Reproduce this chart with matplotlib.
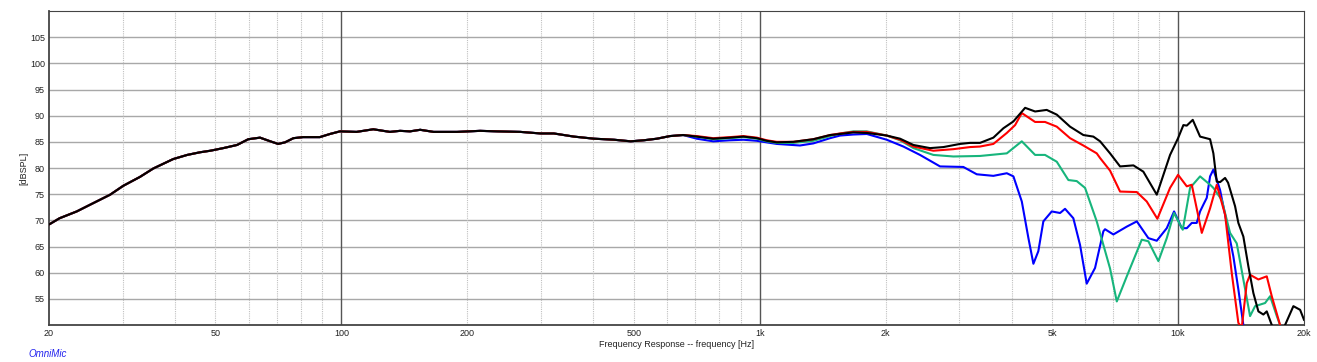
import matplotlib
matplotlib.use("Agg")
import matplotlib.pyplot as plt
import numpy as np

# shared part of all four traces (20 Hz .. 650 Hz)
freq_common = [20, 21.2, 23.3, 25.1, 28.0, 30.1, 33.0, 35.5, 39.6, 42.8, 45.9,
               48.6, 52.2, 56.3, 59.9, 63.9, 67.6, 70.6, 73.3, 76.8, 81.0, 88.8,
               93.9, 99.2, 108.7, 119.2, 130.6, 138.1, 145.9, 154.3, 166.1, 188.9,
               214.6, 235.6, 267.8, 299.2, 322, 359.6, 401.6, 448.6, 491.4, 528.5,
               568, 610, 656]
spl_common = [69.2, 70.4, 71.7, 73.0, 74.9, 76.6, 78.3, 79.9, 81.7, 82.5, 83.0,
              83.3, 83.8, 84.4, 85.5, 85.8, 85.1, 84.6, 84.9, 85.7, 85.9, 85.9,
              86.5, 87.0, 86.9, 87.4, 86.9, 87.1, 87.0, 87.3, 86.9, 86.9,
              87.1, 87.0, 86.9, 86.6, 86.6, 86.0, 85.6, 85.4, 85.1, 85.3,
              85.6, 86.1, 86.3]

freq_black = [707, 774, 849, 914, 984, 1039, 1098, 1203, 1343, 1473, 1556, 1674,
              1803, 2012, 2165, 2330, 2553, 2748, 3012, 3182, 3362, 3618, 3824,
              4040, 4309, 4552, 4853, 5129, 5518, 5937, 6273, 6510, 6877, 7267,
              7821, 8260, 8894, 9569, 10000, 10297, 10491, 10842, 11288, 11927,
              12145, 12373, 12600, 12953, 13167, 13685, 13936, 14324, 14726,
              15136, 15560, 15993, 16293, 16749, 17200, 18022, 18865, 19576, 20000]
spl_black = [86.0, 85.6, 85.8, 86.0, 85.7, 85.2, 84.9, 85.0, 85.5, 86.3, 86.5, 86.8,
             86.7, 86.2, 85.6, 84.4, 83.8, 84.0, 84.6, 84.8, 84.8, 85.8, 87.6,
             88.9, 91.5, 90.8, 91.1, 90.2, 87.9, 86.3, 86.0, 85.1, 82.8, 80.3,
             80.5, 79.3, 74.9, 82.5, 85.7, 88.2, 88.1, 89.2, 86.0, 85.5,
             82.8, 77.4, 77.3, 78.1, 77.2, 72.7, 69.5, 66.9, 61.2,
             56.1, 52.6, 52.0, 52.6, 50.0, 47.5, 50.0, 53.6, 52.9, 51.0]

freq_red = [707, 774, 849, 914, 984, 1039, 1098, 1203, 1343, 1473, 1556, 1674,
            1803, 2012, 2165, 2330, 2600, 2903, 3182, 3362, 3618, 3896, 4078,
            4231, 4552, 4808, 5129, 5518, 5937, 6391, 6510, 6877, 7267, 7969,
            8416, 8923, 9569, 10000, 10491, 10783, 11395, 11927, 12373, 12953,
            13439, 13936, 14200, 14595, 14862, 15560, 16293, 16749, 17531, 17900]
spl_red = [86.1, 85.7, 85.9, 86.1, 85.8, 85.3, 85.0, 85.0, 85.5, 86.3, 86.6, 86.9,
           86.9, 86.2, 85.4, 84.1, 83.3, 83.6, 84.0, 84.1, 84.6, 86.7, 88.2,
           90.5, 88.8, 88.8, 87.9, 85.7, 84.3, 82.8, 81.9, 79.5, 75.5, 75.4,
           73.6, 70.3, 76.2, 78.7, 76.5, 76.8, 67.6, 72.3, 76.8, 71.1,
           59.9, 50.4, 49.5, 58.0, 59.6, 58.7, 59.3, 55.5, 50.0, 48.0]

freq_green = [707, 774, 849, 914, 984, 1039, 1098, 1203, 1343, 1473, 1556, 1674,
              1803, 2012, 2165, 2330, 2600, 2903, 3362, 3896, 4231, 4552, 4808,
              5129, 5467, 5725, 5993, 6391, 6877, 7137, 7541, 8188, 8491, 8974,
              9397, 9782, 10262, 10683, 11288, 11927, 12145, 12720, 13313, 13812,
              14324, 14862, 15279, 16144, 16596, 17219, 17531, 17900]
spl_green = [86.0, 85.5, 85.7, 85.9, 85.6, 85.1, 84.8, 84.8, 85.2, 86.1, 86.6, 87.0,
             87.0, 86.2, 85.3, 83.8, 82.5, 82.2, 82.3, 82.8, 85.1, 82.5, 82.5,
             81.2, 77.7, 77.5, 76.2, 69.8, 60.8, 54.5, 59.3, 66.3, 66.0, 62.2,
             66.6, 71.4, 68.2, 76.2, 78.4, 76.8, 76.2, 73.9, 67.6, 65.6,
             58.7, 51.7, 53.6, 54.2, 55.5, 51.7, 50.0, 48.0]

freq_blue = [707, 774, 849, 914, 984, 1039, 1098, 1248, 1343, 1473, 1556, 1674,
             1803, 2012, 2205, 2416, 2698, 3067, 3182, 3302, 3618, 3896, 4040,
             4231, 4388, 4510, 4634, 4764, 4989, 5223, 5368, 5619, 5830, 6048,
             6332, 6628, 6690, 7004, 7541, 7969, 8491, 8894, 9397, 9782, 10205,
             10491, 10783, 11080, 11288, 11495, 11711, 11927, 12145, 12600,
             13073, 13557, 13936, 14324, 14600]
spl_blue = [85.6, 85.1, 85.3, 85.4, 85.2, 84.9, 84.6, 84.3, 84.7, 85.7, 86.2, 86.4,
            86.5, 85.4, 84.1, 82.5, 80.3, 80.2, 79.5, 78.8, 78.5, 79.0, 78.4,
            73.6, 66.6, 61.7, 64.1, 69.8, 71.7, 71.4, 72.2, 70.4, 65.3, 57.9,
            60.9, 67.9, 68.3, 67.3, 68.8, 69.8, 66.6, 66.1, 68.5, 71.7, 68.5,
            68.5, 69.5, 69.5, 71.7, 73.0, 74.3, 78.4, 79.7, 75.8,
            69.5, 63.1, 56.8, 50.0, 47.0]

traces = [
    (freq_blue, spl_blue, "#0000ff"),
    (freq_green, spl_green, "#17b57c"),
    (freq_red, spl_red, "#ff0000"),
    (freq_black, spl_black, "#000000"),
]

x_ticks = [20, 50, 100, 200, 500, 1000, 2000, 5000, 10000, 20000]
x_labels = ["20", "50", "100", "200", "500", "1k", "2k", "5k", "10k", "20k"]
y_ticks = [55, 60, 65, 70, 75, 80, 85, 90, 95, 100, 105]

plt.rcParams["font.family"] = ["Liberation Sans", "DejaVu Sans"]

fig = plt.figure(figsize=(13.17, 3.62), dpi=100)
ax = fig.add_axes([49 / 1317, 1 - 325 / 362, 1255 / 1317, 314 / 362])

# grid
for y in y_ticks:
    ax.axhline(y, color="#a8a8a8", lw=1.0, zorder=1)
for dec in [10, 100, 1000, 10000]:
    for m in range(2, 10):
        f = dec * m
        if 20 < f < 20000:
            ax.axvline(f, color="#c0c0c0", lw=0.8, ls=(0, (1, 1)), zorder=1)
for f in [100, 1000, 10000]:
    ax.axvline(f, color="#555555", lw=1.0, zorder=1)

for fr, spl, col in traces:
    ax.semilogx(freq_common + fr, spl_common + spl, color=col, lw=1.5, zorder=3)

ax.set_xlim(20, 20000)
ax.set_ylim(50, 110)
ax.set_xticks(x_ticks)
ax.set_xticklabels(x_labels)
ax.xaxis.set_minor_locator(matplotlib.ticker.NullLocator())
ax.set_yticks(y_ticks)
ax.tick_params(length=0, labelsize=6.5, pad=3, colors="#222222")

for s in ["left", "bottom"]:
    ax.spines[s].set_linewidth(1.3)
    ax.spines[s].set_color("#444444")
for s in ["top", "right"]:
    ax.spines[s].set_linewidth(0.8)
    ax.spines[s].set_color("#444444")

ax.set_xlabel("Frequency Response -- frequency [Hz]", fontsize=6.5, labelpad=1, color="#222222")
ax.set_ylabel("[dBSPL]", fontsize=6.5, color="#222222")
ax.yaxis.set_label_coords(-21 / 1255, 0.5)

fig.text(28 / 1317, 1 - 354 / 362, "OmniMic", color="#2222ee", fontsize=7,
         style="italic", va="center", ha="left")

fig.savefig("out.png", dpi=100)
